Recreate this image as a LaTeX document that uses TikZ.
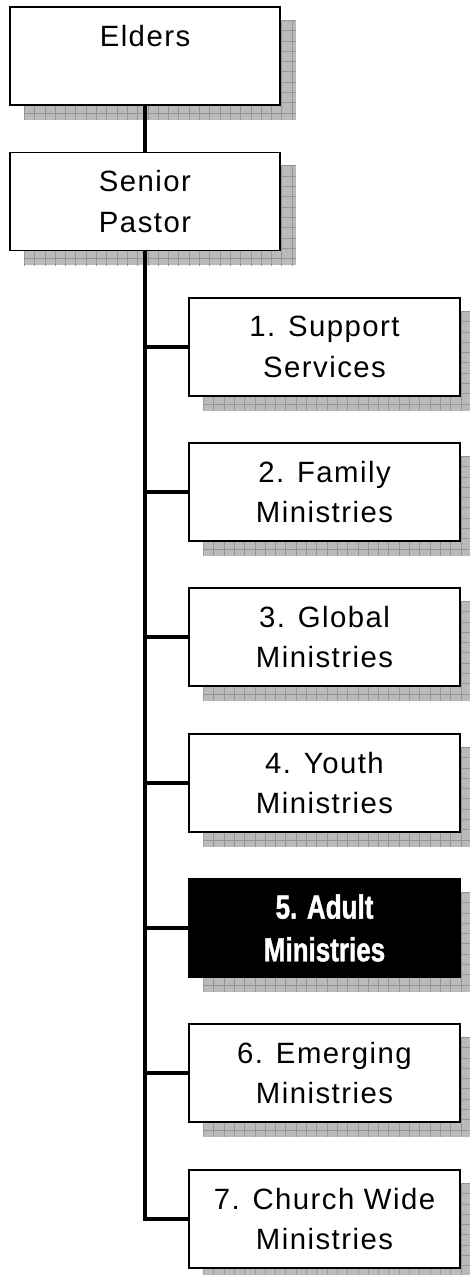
\documentclass[tikz,border=0pt]{standalone}
\usepackage{fontspec}
\setmainfont[LetterSpace=5]{Liberation Sans}
\newfontfamily\condbold[FakeStretch=0.78,FakeBold=1.3]{Liberation Sans Bold}
\usetikzlibrary{backgrounds}
\tikzset{
  orgbox/.style={draw=black, line width=1.2pt, fill=white, inner sep=0pt,
    minimum width=203pt, minimum height=73.5pt, align=center,
    font=\fontsize{22}{30.5}\selectfont},
  topbox/.style={orgbox, minimum width=202.5pt},
  hilite/.style={orgbox, fill=black, text=white,
    font=\condbold\fontsize{25}{32}\selectfont},
  link/.style={line width=3.6pt, line cap=rect},
  shadowfill/.style={fill=black!27},
  shadowgrid/.style={draw=black!42, line width=0.45pt}
}
\begin{document}
\begin{tikzpicture}[x=0.75pt, y=-0.75pt]
\useasboundingbox (0,0) rectangle (470,1275);
\clip (0,0) rectangle (470,1275);
\node[topbox] (elders) at (145,56) {Elders\\\phantom{P}};
\node[topbox] (senior) at (145,201.5) {Senior\\Pastor};
\node[orgbox] (b1) at (324.5,347) {1. Support\\Services};
\node[orgbox] (b2) at (324.5,492) {2. Family\\Ministries};
\node[orgbox] (b3) at (324.5,637) {3. Global\\Ministries};
\node[orgbox] (b4) at (324.5,783) {4. Youth\\Ministries};
\node[hilite] (b5) at (324.5,928) {5. Adult\\Ministries};
\node[orgbox] (b6) at (324.5,1073) {6. Emerging\\Ministries};
\node[orgbox] (b7) at (324.5,1219) {7. Church Wide\\Ministries};
\begin{pgfonlayer}{background}
  \foreach \n in {elders,senior,b1,b2,b3,b4,b5,b6,b7} {
    \begin{scope}
      \path[shadowfill] ([shift={(15,14)}]\n.north west) rectangle ([shift={(15,14)}]\n.south east);
      \clip ([shift={(15,14)}]\n.north west) rectangle ([shift={(15,14)}]\n.south east);
      \foreach \i in {0,...,28} {
        \draw[shadowgrid] ([shift={(15+\i*10.3,14)}]\n.north west) -- ++(0,110);
      }
      \foreach \j in {0,...,10} {
        \draw[shadowgrid] ([shift={(15,14+\j*10.3)}]\n.north west) -- ++(290,0);
      }
    \end{scope}
  }
  \draw[link] (elders.south) -- (senior.north);
  \draw[link, line cap=butt] (senior.south) |- (b7.west);
  \foreach \n in {b1,b2,b3,b4,b5,b6} {
    \draw[link, line cap=butt] (senior.south |- \n.west) -- (\n.west);
  }
\end{pgfonlayer}
\end{tikzpicture}
\end{document}
